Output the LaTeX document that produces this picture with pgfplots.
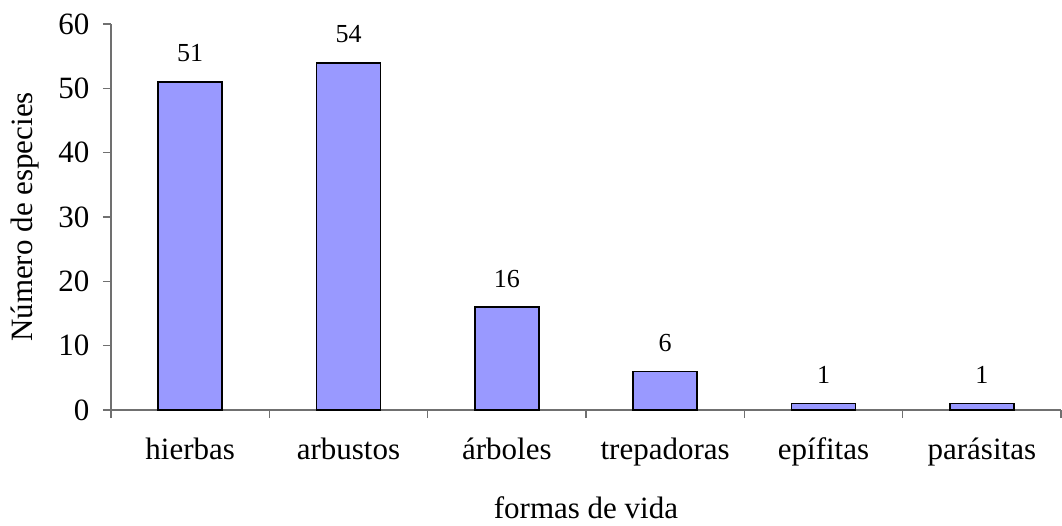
\documentclass[border=0pt]{standalone}
\usepackage{pgfplots}
\pgfplotsset{compat=1.18}
\usepackage{fontspec}
\setmainfont{Liberation Serif}
\definecolor{barfill}{HTML}{9999FF}
\definecolor{axgray}{HTML}{707070}
\begin{document}
\begin{tikzpicture}
\path[use as bounding box] (-111pt,-115pt) rectangle (951pt,410pt);
\begin{axis}[
  at={(0pt,0pt)}, anchor=south west,
  scale only axis, width=950pt, height=386pt,
  xmin=-0.5, xmax=5.5, ymin=0, ymax=60,
  axis x line*=bottom, axis y line*=left,
  axis line style={axgray, line width=1.2pt},
  every tick/.style={axgray, line width=1.2pt},
  tick align=outside,
  xtick={-0.5,0.5,1.5,2.5,3.5,4.5,5.5},
  xticklabels={},
  extra x ticks={0,1,2,3,4,5},
  extra x tick labels={hierbas,arbustos,árboles,trepadoras,epífitas,parásitas},
  extra x tick style={major tick length=0pt, xticklabel style={anchor=base, yshift=-49pt}},
  ytick={0,10,20,30,40,50,60},
  major tick length=8pt,
  /pgf/number format/assume math mode=true,
  ticklabel style={font=\fontsize{31}{36}\selectfont},
  yticklabel style={xshift=-10pt},
  xlabel={formas de vida},
  ylabel={Número de especies},
  label style={font=\fontsize{31}{36}\selectfont},
  x label style={at={(axis description cs:0.5,0)}, anchor=base, yshift=-108pt},
  y label style={at={(axis description cs:-0.0821,0.5)}, anchor=base},
  ybar, bar width=64pt,
  nodes near coords,
  every node near coord/.style={font=\fontsize{26}{30}\selectfont, anchor=base, yshift=20pt, inner sep=0pt, black},
  clip=false,
]
\addplot[draw=black, fill=barfill, line width=1.8pt] coordinates {(0,51) (1,54) (2,16) (3,6) (4,1) (5,1)};
\end{axis}
\end{tikzpicture}
\end{document}
